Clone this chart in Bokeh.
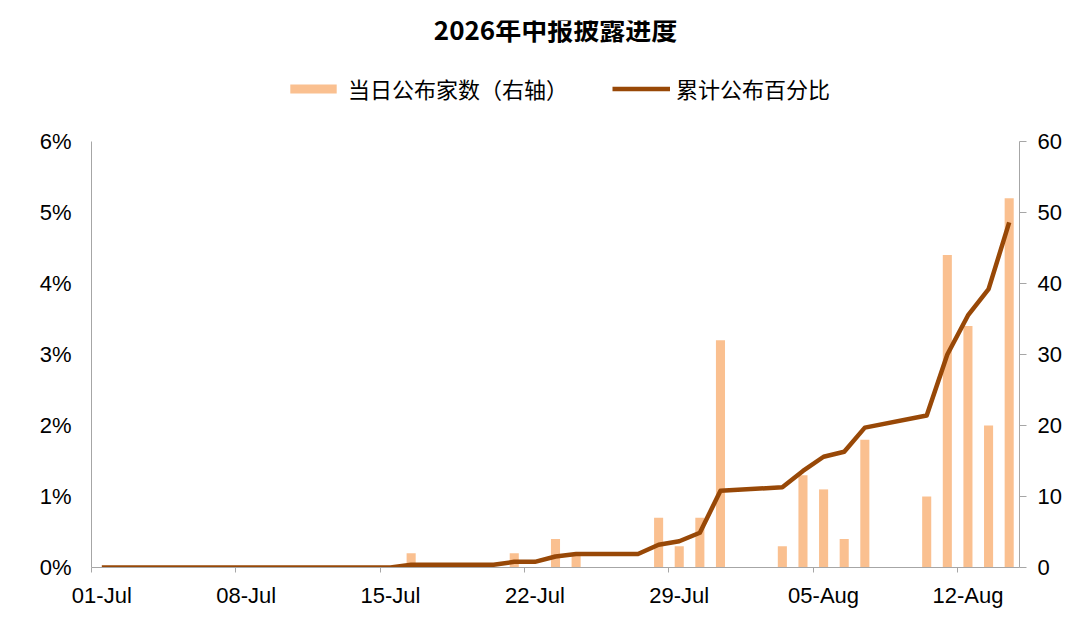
import pandas as pd
from bokeh.plotting import figure
from bokeh.models import (Range1d, LinearAxis, FixedTicker, NumeralTickFormatter,
                          DatetimeTickFormatter, Legend, LegendItem, ColumnDataSource, Label)
from bokeh.embed import file_html
from bokeh.resources import INLINE

# ---------------- data ----------------
title_text = "2026年中报披露进度"
bar_label = "当日公布家数（右轴）"
line_label = "累计公布百分比"

bar_dates = ["2026-07-16", "2026-07-21", "2026-07-23", "2026-07-24", "2026-07-28",
             "2026-07-29", "2026-07-30", "2026-07-31", "2026-08-03", "2026-08-04",
             "2026-08-05", "2026-08-06", "2026-08-07", "2026-08-10", "2026-08-11",
             "2026-08-12", "2026-08-13", "2026-08-14"]
bar_counts = [2, 2, 4, 2, 7, 3, 7, 32, 3, 13, 11, 4, 18, 10, 44, 34, 20, 52]

line_dates = ["2026-07-01", "2026-07-02", "2026-07-03", "2026-07-06", "2026-07-07",
              "2026-07-08", "2026-07-09", "2026-07-10", "2026-07-13", "2026-07-14",
              "2026-07-15", "2026-07-16", "2026-07-17", "2026-07-20", "2026-07-21",
              "2026-07-22", "2026-07-23", "2026-07-24", "2026-07-27", "2026-07-28",
              "2026-07-29", "2026-07-30", "2026-07-31", "2026-08-03", "2026-08-04",
              "2026-08-05", "2026-08-06", "2026-08-07", "2026-08-10", "2026-08-11",
              "2026-08-12", "2026-08-13", "2026-08-14"]
line_pct = [0.0, 0.0, 0.0, 0.0, 0.0, 0.0, 0.0, 0.0, 0.0, 0.0,
            0.0, 0.04, 0.04, 0.04, 0.08, 0.08, 0.155, 0.19, 0.19, 0.32,
            0.37, 0.49, 1.08, 1.13, 1.36, 1.56, 1.63, 1.97, 2.14, 3.00,
            3.55, 3.92, 4.86]  # percent

pct_ticks = [0, 0.01, 0.02, 0.03, 0.04, 0.05, 0.06]
count_ticks = [0, 10, 20, 30, 40, 50, 60]
tick_dates = ["2026-07-01", "2026-07-08", "2026-07-15", "2026-07-22",
              "2026-07-29", "2026-08-05", "2026-08-12"]
axis_start, axis_end = "2026-07-01", "2026-08-14"

# ---------------- styling / layout ----------------
BAR_COLOR = "#FAC090"
LINE_COLOR = "#984807"
AXIS_COLOR = "#A6A6A6"
TICK_FONT = "Liberation Sans"
CJK_FONT = "Noto Sans CJK SC"

W, H = 1064, 612
B_LEFT, B_RIGHT, B_TOP, B_BOTTOM = 91, 44, 20, 45
FRAME_H = H - B_TOP - B_BOTTOM           # drawing area height in px
AXIS_H = 426                             # px spanned by the 0..6% axis
stretch = FRAME_H / AXIS_H               # frame extends above the axes for title/legend

half_day = pd.Timedelta(hours=12)
day_ms = 86400000

def ms(ts):
    return pd.Timestamp(ts).value // 10**6

bar_src = ColumnDataSource(dict(x=pd.to_datetime(bar_dates), y=bar_counts))
line_src = ColumnDataSource(dict(x=pd.to_datetime(line_dates),
                                 y=[v / 100.0 for v in line_pct]))

x0 = pd.Timestamp(axis_start) - half_day
x1 = pd.Timestamp(axis_end) + half_day

p = figure(x_axis_type="datetime",
           x_range=Range1d(x0, x1),
           y_range=Range1d(0, pct_ticks[-1] * stretch),
           width=W, height=H,
           min_border_left=B_LEFT, min_border_right=B_RIGHT,
           min_border_top=B_TOP, min_border_bottom=B_BOTTOM,
           output_backend="svg", toolbar_location=None,
           background_fill_color="white", border_fill_color="white")
p.outline_line_color = None
p.xgrid.visible = False
p.ygrid.visible = False

p.extra_y_ranges = {"count": Range1d(0, count_ticks[-1] * stretch)}

bars = p.vbar(x="x", top="y", width=0.44 * day_ms, source=bar_src, y_range_name="count",
              fill_color=BAR_COLOR, line_color=None)
line = p.line(x="x", y="y", source=line_src, line_color=LINE_COLOR, line_width=4.5,
              line_join="round")

# left axis
ly = p.yaxis[0]
ly.ticker = FixedTicker(ticks=pct_ticks)
ly.bounds = (pct_ticks[0], pct_ticks[-1])
ly.formatter = NumeralTickFormatter(format="0%")
ly.axis_line_color = AXIS_COLOR
ly.major_tick_line_color = None
ly.minor_tick_line_color = None
ly.major_label_standoff = 14
ly.major_label_text_font = TICK_FONT
ly.major_label_text_font_size = "22px"
ly.major_label_text_color = "black"

# right axis
ry = LinearAxis(y_range_name="count", ticker=FixedTicker(ticks=count_ticks))
ry.bounds = (count_ticks[0], count_ticks[-1])
ry.axis_line_color = AXIS_COLOR
ry.major_tick_line_color = AXIS_COLOR
ry.major_tick_in = 0
ry.major_tick_out = 7
ry.minor_tick_line_color = None
ry.major_label_standoff = 11
ry.major_label_text_font = TICK_FONT
ry.major_label_text_font_size = "22px"
ry.major_label_text_color = "black"
p.add_layout(ry, "right")

# bottom axis: labels at day centres, tick marks at day boundaries
bx = p.xaxis[0]
bx.ticker = FixedTicker(ticks=[ms(d) for d in tick_dates],
                        minor_ticks=[ms(pd.Timestamp(d) - half_day) for d in tick_dates])
bx.formatter = DatetimeTickFormatter(days="%d-%b", months="%d-%b")
bx.axis_line_color = AXIS_COLOR
bx.major_tick_line_color = None
bx.major_tick_in = 0
bx.major_tick_out = 0
bx.minor_tick_line_color = AXIS_COLOR
bx.minor_tick_in = 0
bx.minor_tick_out = 5
bx.major_label_standoff = 10
bx.major_label_text_font = TICK_FONT
bx.major_label_text_font_size = "22px"
bx.major_label_text_color = "black"

# title (drawn inside the extended frame, above the axes)
title_y = pct_ticks[-1] * (H - B_BOTTOM - 28) / AXIS_H
title = Label(x=(ms(x0) + ms(x1)) / 2, y=title_y, text=title_text,
              text_align="center", text_baseline="middle",
              text_font=CJK_FONT, text_font_size="26px", text_font_style="bold",
              text_color="black")
p.add_layout(title)

# legend (screen units from the frame's bottom-left)
legend = Legend(items=[LegendItem(label=bar_label, renderers=[bars]),
                       LegendItem(label=line_label, renderers=[line])],
                orientation="horizontal", location=(193, 463),
                glyph_width=58, glyph_height=11, label_standoff=6, spacing=44,
                label_text_font=CJK_FONT, label_text_font_size="22px",
                label_text_color="black", border_line_color=None,
                background_fill_alpha=0, padding=0, margin=0)
p.add_layout(legend)

open("out.html", "w").write(file_html(p, INLINE))
